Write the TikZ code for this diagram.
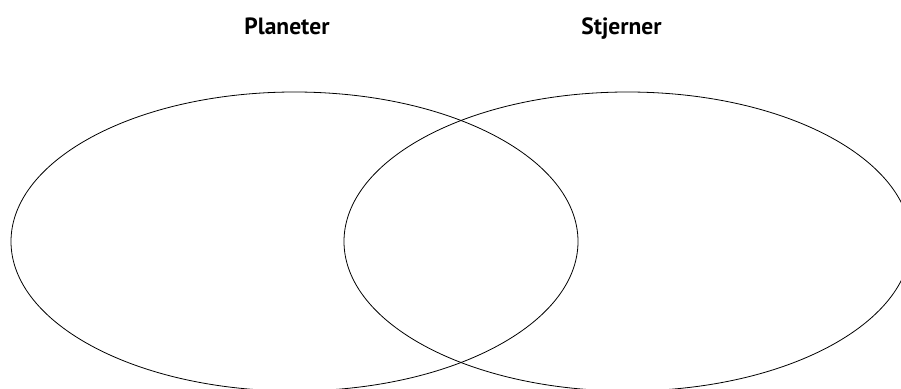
\documentclass[tikz,border=0pt]{standalone}
\usepackage{fontspec}
\setmainfont{PT Sans}
\usepackage{tikz}
\usetikzlibrary{positioning}

\tikzset{
  settext/.style={anchor=base, font=\bfseries\fontsize{23.5}{27}\selectfont},
  setline/.style={draw=black, line width=0.8pt}
}

\begin{document}
\begin{tikzpicture}[x=1pt, y=-1pt]
                \useasboundingbox (0,0) rectangle (901,388);
                \clip (0,0) rectangle (901,388);
                \coordinate (planC) at (294.5,241.5);
                \coordinate (starC) at (627.5,241.5);
                \draw [setline] (planC) ellipse [x radius=283.5pt, y radius=149.5pt];
                \draw [setline] (starC) ellipse [x radius=283.5pt, y radius=149.5pt];
                \node [settext] (plan) at (287,34.5) {Planeter};
                \node [settext] (star) at (621.5,34.5) {Stjerner};
            \end{tikzpicture}
\end{document}
